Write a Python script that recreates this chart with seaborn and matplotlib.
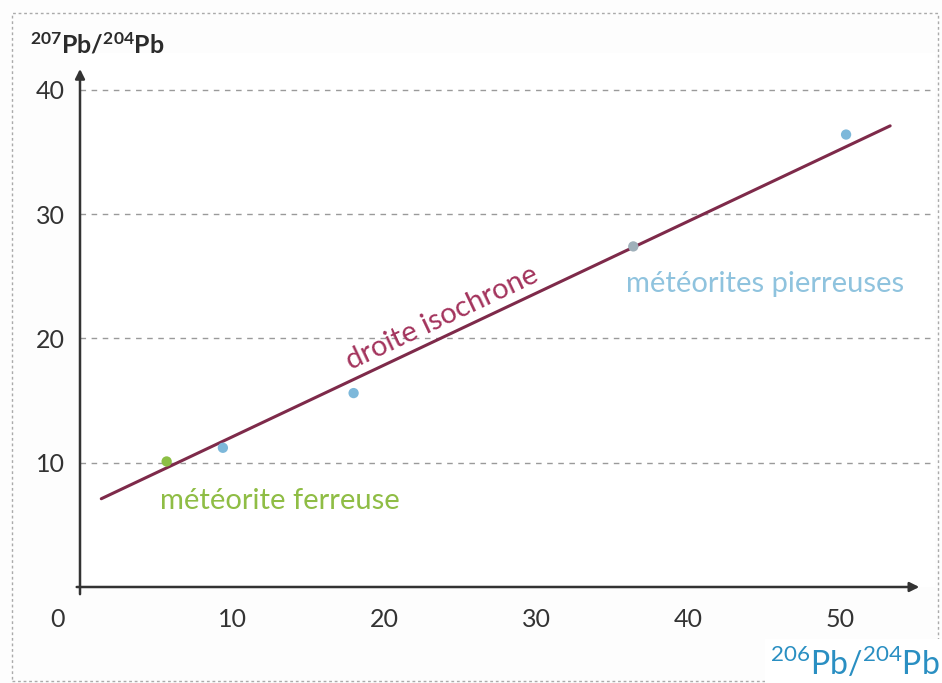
import matplotlib
matplotlib.use("Agg")
import matplotlib.pyplot as plt
import seaborn as sns
import pandas as pd
from matplotlib.patches import Rectangle

# values
pt_x = [5.7, 9.4, 18.0, 36.4, 50.4]
pt_y = [10.1, 11.2, 15.6, 27.4, 36.4]
pt_kind = ["ferreuse", "pierreuse", "pierreuse", "pierreuse_gris", "pierreuse"]
line_x = [1.4, 53.3]
line_y = [7.1, 37.1]
x_ticks = [10, 20, 30, 40, 50]
y_ticks = [10, 20, 30, 40]

sns.set_theme(style="white")
plt.rcParams["font.family"] = ["Lato", "DejaVu Sans"]
plt.rcParams["mathtext.fontset"] = "custom"
plt.rcParams["mathtext.rm"] = "Lato"
plt.rcParams["mathtext.bf"] = "Lato:bold"

fig = plt.figure(figsize=(9.42, 6.83), dpi=100)
ax = fig.add_axes([80 / 942, 96 / 683, 855 / 942, 43 * 12.43 / 683])

df = pd.DataFrame({"x": pt_x, "y": pt_y, "kind": pt_kind})
palette = {"ferreuse": "#8cbf45", "pierreuse": "#7db8da", "pierreuse_gris": "#9fb0ba"}

for yv in y_ticks:
    ax.axhline(yv, color="#9a9a9a", lw=1, ls=(0, (4, 4)), zorder=0)

sns.lineplot(x=line_x, y=line_y, ax=ax, color="#7e2a4a", lw=2.2, zorder=2)
sns.scatterplot(data=df, x="x", y="y", hue="kind", palette=palette, s=55,
                edgecolor="none", legend=False, ax=ax, zorder=3)

ax.set_xlim(0, 56.25)
ax.set_ylim(0, 43)
for s in ax.spines.values():
    s.set_visible(False)

# arrowed axes
ax.annotate("", xy=(55.4, 0), xytext=(-0.4, 0),
            arrowprops=dict(arrowstyle="-|>", color="#333333", lw=1.8, mutation_scale=14),
            annotation_clip=False)
ax.annotate("", xy=(0, 41.9), xytext=(0, -0.8),
            arrowprops=dict(arrowstyle="-|>", color="#333333", lw=1.8, mutation_scale=14),
            annotation_clip=False)

ax.set_xticks(x_ticks)
ax.set_yticks(y_ticks)
ax.tick_params(axis="both", labelsize=18, colors="#333333", length=4, width=1)
ax.tick_params(axis="x", pad=12, length=3, direction="out")
ax.tick_params(axis="y", pad=6, length=5)
ax.set_xlabel("")
ax.set_ylabel("")
ax.text(-1.5, -2.6, "0", fontsize=18, color="#333333", ha="center", va="center")

# labels on the chart
ax.text(23.8, 21.6, "droite isochrone", rotation=25.3, rotation_mode="anchor",
        fontsize=21, color="#a3335c", ha="center", va="center")
ax.text(35.9, 24.4, "météorites pierreuses", fontsize=21, color="#8fc3de",
        ha="left", va="center")
ax.text(5.25, 6.9, "météorite ferreuse", fontsize=21, color="#8fbd45",
        ha="left", va="center")

# axis titles
fig.text(30 / 942, 1 - 45 / 683, r"$\mathbf{^{207}Pb/^{204}Pb}$", fontsize=18,
         color="#2b2b2b", ha="left", va="center")
fig.patches.append(Rectangle((12 / 942, 2 / 683), 926 / 942, 668 / 683,
                             transform=fig.transFigure, fill=False,
                             ec="#aaaaaa", lw=1, ls=(0, (2, 2))))
fig.patches.append(Rectangle((765 / 942, 0), 177 / 942, 44 / 683,
                             transform=fig.transFigure, fc="white", ec="none"))
fig.text(940 / 942, 20 / 683, r"$^{206}$Pb/$^{204}$Pb", fontsize=23,
         color="#2a8fc2", ha="right", va="center")

fig.savefig("out.png", dpi=100, facecolor="#fdfdfd")
